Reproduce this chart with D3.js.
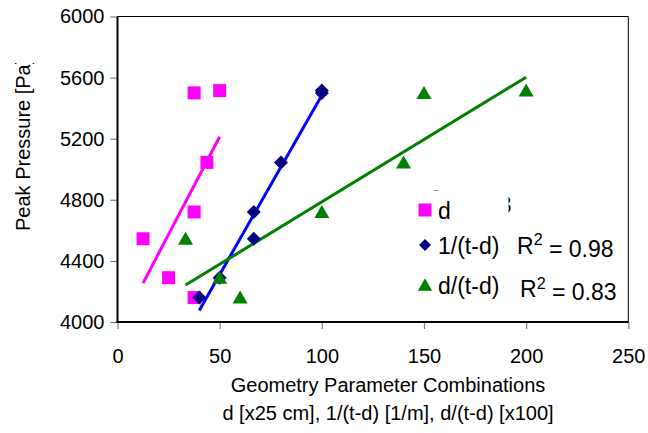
<!DOCTYPE html>
<html>
<head>
<meta charset="utf-8">
<script src="https://cdn.jsdelivr.net/npm/d3@7"></script>
<style>
  html, body { margin: 0; padding: 0; background: #fff; }
  svg { display: block; }
  text { font-family: "Liberation Sans", Arial, sans-serif; }
</style>
</head>
<body>
<svg id="chart" width="648" height="433"></svg>
<script>
// ---- data ----
const pressure   = [4545, 4290, 4160, 4720, 5045, 5500, 5515];
const dValues    = [12.5, 25, 37.5, 37.5, 43.75, 37.5, 50];
const invValues  = [66.7, 50, 40, 66.7, 80, 100, 100];
const ratioValues = [33.3, 50, 60, 100, 140, 150, 200];
const seriesNames = ["d", "1/(t-d)", "d/(t-d)"];
const r2Labels   = ["0.33", "0.98", "0.83"];
const xTicks = [0, 50, 100, 150, 200, 250];
const yTicks = [4000, 4400, 4800, 5200, 5600, 6000];
const xTitle1 = "Geometry Parameter Combinations";
const xTitle2 = "d [x25 cm], 1/(t-d) [1/m], d/(t-d) [x100]";
const yTitle = "Peak Pressure [Pa]";

// ---- layout ----
const svg = d3.select("#chart");
const L = 117.5, R = 628.3, T = 16.5, B = 322;
const x = d3.scaleLinear().domain([0, 250]).range([L, R]);
const y = d3.scaleLinear().domain([4000, 6000]).range([B, T]);

const series = [
  {name: seriesNames[0], xs: dValues,    color: "#FF00FF", line: "#FF00FF", shape: "square",   r2: r2Labels[0]},
  {name: seriesNames[1], xs: invValues,  color: "#000080", line: "#0000FF", shape: "diamond",  r2: r2Labels[1]},
  {name: seriesNames[2], xs: ratioValues, color: "#008000", line: "#008000", shape: "triangle", r2: r2Labels[2]}
];

function fit(xs, ys) {
  const mx = d3.mean(xs), my = d3.mean(ys);
  let sxy = 0, sxx = 0;
  xs.forEach((v, i) => { sxy += (v - mx) * (ys[i] - my); sxx += (v - mx) * (v - mx); });
  const b = sxy / sxx;
  return {b, a: my - b * mx};
}

function markerPath(shape) {
  if (shape === "square") return "M-6.5,-6.5H6.5V6.5H-6.5Z";
  if (shape === "diamond") return "M0,-7L7,0L0,7L-7,0Z";
  return "M0,-7L7.5,6L-7.5,6Z";
}

// ---- axes ----
const xAxis = d3.axisBottom(x).tickValues(xTicks).tickSize(7).tickPadding(20).tickFormat(d3.format("d"));
const yAxis = d3.axisLeft(y).tickValues(yTicks).tickSize(7).tickPadding(6).tickFormat(d3.format("d"));

const gx = svg.append("g").attr("transform", `translate(0,${B})`).call(xAxis);
const gy = svg.append("g").attr("transform", `translate(${L},0)`).call(yAxis);
[gx, gy].forEach(g => {
  g.select(".domain").remove();
  g.selectAll(".tick line").attr("stroke", "#808080").attr("stroke-width", 1.2);
  g.selectAll(".tick text").attr("fill", "#000").style("font-size", "20px")
    .style("font-family", '"Liberation Sans", Arial, sans-serif');
});
gx.selectAll(".tick text").attr("dy", "0.71em");

// plot border
svg.append("line").attr("x1", R).attr("x2", R).attr("y1", T).attr("y2", B).attr("stroke", "#000").attr("stroke-width", 1);
svg.append("line").attr("x1", L).attr("x2", R).attr("y1", T).attr("y2", T).attr("stroke", "#000").attr("stroke-width", 1);
svg.append("line").attr("x1", L).attr("x2", L).attr("y1", T).attr("y2", B + 1).attr("stroke", "#000").attr("stroke-width", 2);
svg.append("line").attr("x1", L - 1).attr("x2", R).attr("y1", B).attr("y2", B).attr("stroke", "#000").attr("stroke-width", 2);

// ---- R2 label helper ----
const r2Font = 23;
function r2Text(g, xx, yy, val) {
  const t = g.append("text").attr("x", xx).attr("y", yy).style("font-size", r2Font + "px").attr("fill", "#000");
  t.append("tspan").text("R");
  t.append("tspan").attr("dy", "-0.5em").style("font-size", "0.7em").text("2");
  t.append("tspan").attr("dy", "0.5em").text(" = " + val);
  return t;
}

// hidden R2 label of the first series: only slivers show around the legend box
svg.append("clipPath").attr("id", "hidclip").append("path")
  .attr("d", "M405,180H520V230H508.5V190.5H405Z");
r2Text(svg.append("g").attr("clip-path", "url(#hidclip)"), 415, 210, series[0].r2);

// ---- trendlines and markers ----
series.forEach(s => {
  const f = fit(s.xs, pressure);
  const x0 = d3.min(s.xs), x1 = d3.max(s.xs);
  svg.append("line")
    .attr("x1", x(x0)).attr("y1", y(f.a + f.b * x0))
    .attr("x2", x(x1)).attr("y2", y(f.a + f.b * x1))
    .attr("stroke", s.line).attr("stroke-width", 3);
});
series.forEach(s => {
  svg.append("g").selectAll("path").data(s.xs).join("path")
    .attr("d", markerPath(s.shape))
    .attr("transform", (d, i) => `translate(${x(d)},${y(pressure[i])})`)
    .attr("fill", s.color);
});

// ---- legend ----
const legY = [210, 245, 285];
const legend = svg.append("g");
series.forEach((s, i) => {
  const sc = s.shape === "square" ? 1 : (s.shape === "diamond" ? 0.85 : 0.95);
  legend.append("path").attr("d", markerPath(s.shape))
    .attr("transform", `translate(425,${legY[i]}) scale(${sc})`)
    .attr("fill", s.color);
  legend.append("text").attr("x", 438).attr("y", legY[i] + 8.5)
    .style("font-size", r2Font + "px").attr("fill", "#000").text(s.name);
});
r2Text(svg, 517, 253.5, series[1].r2);
r2Text(svg, 520, 297, series[2].r2);

// ---- axis titles ----
svg.append("text").attr("x", 388).attr("y", 392).attr("text-anchor", "middle")
  .style("font-size", "20px").attr("fill", "#000").text(xTitle1);
svg.append("text").attr("x", 388).attr("y", 420).attr("text-anchor", "middle")
  .style("font-size", "20px").attr("fill", "#000").text(xTitle2);

svg.append("clipPath").attr("id", "yclip").append("rect")
  .attr("x", 0).attr("y", 63).attr("width", 60).attr("height", 300);
svg.append("g").attr("clip-path", "url(#yclip)")
  .append("text")
  .attr("transform", "translate(30,231) rotate(-90)")
  .style("font-size", "20px").attr("fill", "#000").text(yTitle);
</script>
</body>
</html>
